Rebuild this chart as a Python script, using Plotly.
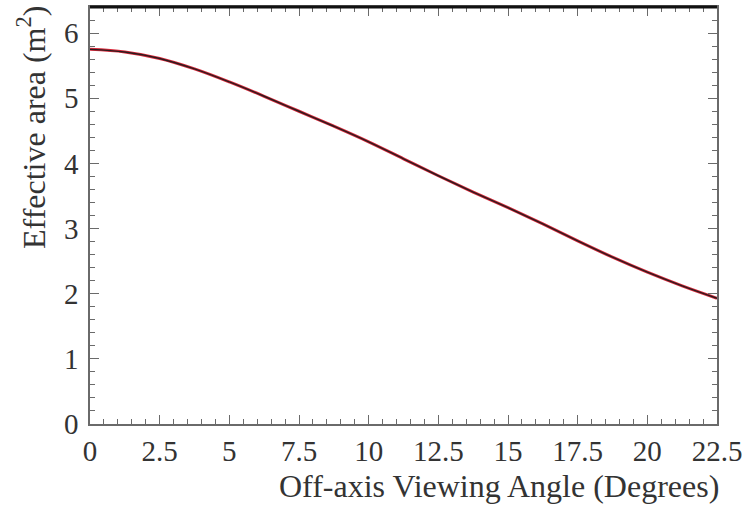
import plotly.graph_objects as go

# Off-axis angle (degrees) and effective area (m^2)
angle_deg = [0, 1.25, 2.5, 3.75, 5, 6.25, 7.5, 8.75, 10, 11.25, 12.5,
             13.75, 15, 16.25, 17.5, 18.75, 20, 21.25, 22.5]
effective_area = [5.75, 5.71, 5.61, 5.45, 5.25, 5.03, 4.80, 4.57, 4.33, 4.07, 3.81,
                  3.56, 3.32, 3.07, 2.81, 2.56, 2.33, 2.12, 1.93]

x_ticks = [0, 2.5, 5, 7.5, 10, 12.5, 15, 17.5, 20, 22.5]
x_tick_labels = ["0", "2.5", "5", "7.5", "10", "12.5", "15", "17.5", "20", "22.5"]
y_ticks = [0, 1, 2, 3, 4, 5, 6]

FONT = "Liberation Serif"
AXIS_COLOR = "#6a6a6a"
TEXT_COLOR = "#333333"

fig = go.Figure()
fig.add_trace(go.Scatter(x=angle_deg, y=effective_area, mode="lines",
                         line=dict(color="#d8283a", width=3.0, shape="spline"),
                         showlegend=False, hoverinfo="skip"))
fig.add_trace(go.Scatter(x=angle_deg, y=effective_area, mode="lines",
                         line=dict(color="#2a1c1e", width=1.4, shape="spline"),
                         showlegend=False))

axis_common = dict(
    showgrid=False, zeroline=False, showline=True, linecolor=AXIS_COLOR,
    linewidth=1.6, mirror="allticks", ticks="inside", tickcolor=AXIS_COLOR,
    tickwidth=1, ticklen=9, automargin=False,
    tickfont=dict(family=FONT, size=29, color=TEXT_COLOR),
)

fig.update_xaxes(range=[0, 22.5], tickvals=x_ticks, ticktext=x_tick_labels,
                 minor=dict(dtick=0.5, ticks="inside", ticklen=5,
                            tickcolor=AXIS_COLOR, tickwidth=1),
                 ticklabelstandoff=0, **axis_common)
fig.update_yaxes(range=[0, 6.4], tickvals=y_ticks,
                 minor=dict(dtick=0.2, ticks="inside", ticklen=5,
                            tickcolor=AXIS_COLOR, tickwidth=1),
                 ticklabelstandoff=4, **axis_common)

# Heavier top edge of the frame
fig.add_shape(type="line", xref="paper", yref="paper", x0=0, x1=1, y0=1, y1=1,
              line=dict(color="#111111", width=3))

# Axis titles
fig.add_annotation(text="Off-axis Viewing Angle (Degrees)", xref="paper", yref="paper",
                   x=0.653, y=-0.148, xanchor="center", yanchor="middle",
                   showarrow=False, font=dict(family=FONT, size=32, color=TEXT_COLOR))
fig.add_annotation(text="Effective area (m<sup>2</sup>)", xref="paper", yref="paper",
                   x=-0.094, y=0.71, xanchor="center", yanchor="middle", textangle=-90,
                   showarrow=False, font=dict(family=FONT, size=32, color=TEXT_COLOR))

fig.update_layout(
    width=744, height=512,
    margin=dict(l=90, r=27, t=7, b=88),
    plot_bgcolor="white", paper_bgcolor="white",
)

fig.write_html("out.html")
